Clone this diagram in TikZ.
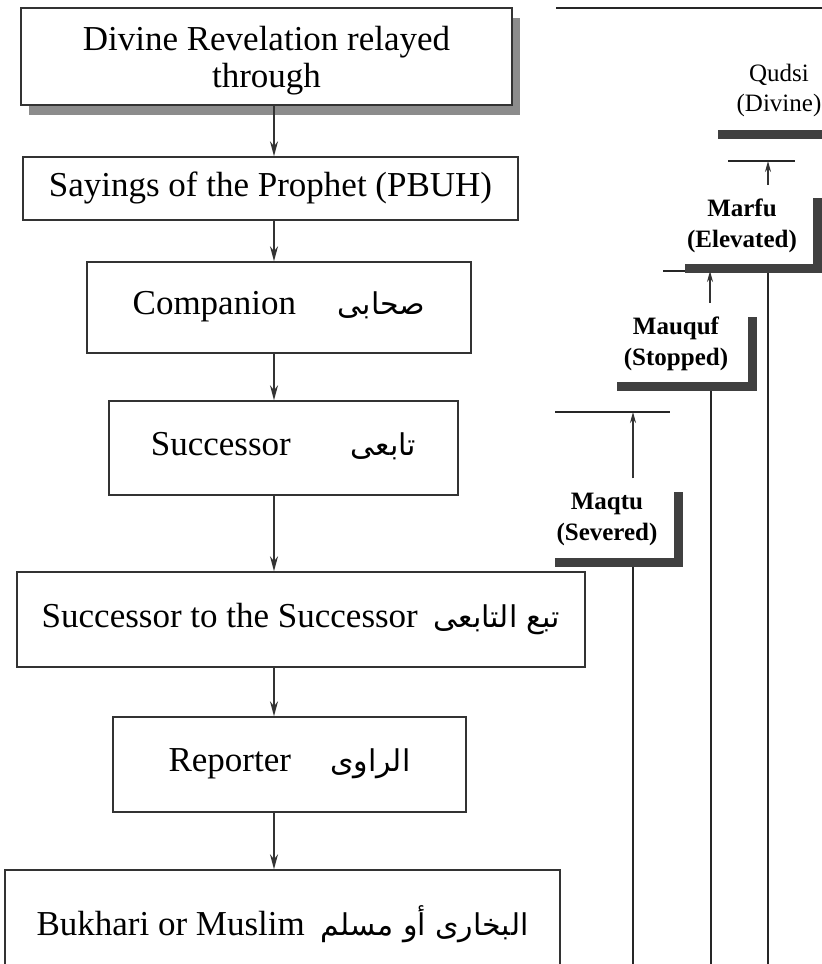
\documentclass[tikz,border=0pt]{standalone}
\usepackage{fontspec}
\setmainfont{Liberation Serif}
\newfontfamily\arabicfont[Script=Arabic]{DejaVu Sans}
\TeXXeTstate=1
\usepackage{tikz}
\usetikzlibrary{arrows.meta}
\usetikzlibrary{shadows}
\tikzset{>={Stealth[length=15pt,width=8pt]}}
\tikzset{
  chainbox/.style={draw=black!80, line width=1.5pt, fill=white, inner sep=0pt,
    font=\fontsize{35}{37}\selectfont, align=center, text depth=9pt},
  kindlabel/.style={font=\fontsize{25}{31}\selectfont\bfseries, align=center,
    inner xsep=2pt, inner ysep=14pt},
  thickbar/.style={draw=black!75, line width=9pt},
  thinbar/.style={draw=black!85, line width=1.5pt},
  link/.style={->, draw=black!80, line width=1.5pt}
}
\newcommand{\arabictext}[1]{{\arabicfont\fontsize{30}{37}\selectfont\beginR #1\endR}}

\begin{document}
\begin{tikzpicture}[x=1pt,y=-1pt]
  \clip (0,0) rectangle (822,964);
  % chain of reporters
  \node[chainbox, minimum width=491pt, minimum height=97pt, text depth=0pt,
    drop shadow={shadow xshift=8pt, shadow yshift=-10pt, fill=black!45, opacity=1}]
    (revelation) at (266.5,56.5) {Divine Revelation relayed\\through};
  \node[chainbox, minimum width=495pt, minimum height=63pt] (sayings) at (270.5,188.5)
    {Sayings of the Prophet (PBUH)};
  \node[chainbox, minimum width=384pt, minimum height=91pt] (companion) at (279,307.5)
    {Companion\hspace{42pt}\arabictext{صحابى}};
  \node[chainbox, minimum width=349pt, minimum height=94pt] (successor) at (283.5,448)
    {Successor\hspace{60pt}\arabictext{تابعى}};
  \node[chainbox, minimum width=568pt, minimum height=95pt] (successor2) at (301,619.5)
    {Successor to the Successor\hspace{16pt}\arabictext{تبع التابعى}};
  \node[chainbox, minimum width=353pt, minimum height=95pt] (reporter) at (289.5,764.5)
    {Reporter\hspace{39pt}\arabictext{الراوى}};
  \node[chainbox, minimum width=555pt, minimum height=110pt] (collector) at (282.5,925)
    {Bukhari or Muslim\hspace{16pt}\arabictext{البخارى أو مسلم}};

  \coordinate (spine) at (274,0);
  \coordinate (floor) at (0,970);
  \foreach \from/\to in {revelation/sayings, sayings/companion, companion/successor,
      successor/successor2, successor2/reporter, reporter/collector}
    \draw[link] (\from.south -| spine) -- (\to.north -| spine);

  % kinds of hadith
  \draw[thinbar] (556,8) -- (822,8);
  \node[kindlabel, font=\fontsize{25}{30}\selectfont] (qudsi) at (779,90) {Qudsi\\(Divine)};
  \draw[thickbar] (718,134.5) -- (822,134.5);

  \coordinate (marfuTop) at (768,161);
  \draw[thinbar] (728,161) -- (795,161);
  \node[kindlabel] (marfu) at (742,226) {Marfu\\(Elevated)};
  \draw[link, >={Stealth[length=11pt,width=6pt]}] (marfu.north -| marfuTop) -- (marfuTop);

  \coordinate (mauqufTop) at (710,271);
  \draw[thinbar] (663,271) -- (750,271);
  \draw[thickbar] (685,268.5) -| (817.5,198);
  \coordinate (marfuFoot) at (768,273);
  \draw[thinbar] (marfuFoot) -- (marfuFoot |- floor);
  \node[kindlabel] (mauquf) at (676,344) {Mauquf\\(Stopped)};
  \draw[link, >={Stealth[length=11pt,width=6pt]}] (mauquf.north -| mauqufTop) -- (mauqufTop);
  \draw[thickbar] (617,386.5) -| (752.5,317);
  \coordinate (mauqufFoot) at (711,391);
  \draw[thinbar] (mauqufFoot) -- (mauqufFoot |- floor);

  \coordinate (maqtuTop) at (633,412);
  \draw[thinbar] (555,412) -- (670,412);
  \node[kindlabel] (maqtu) at (607,519) {Maqtu\\(Severed)};
  \draw[link, >={Stealth[length=11pt,width=6pt]}] (maqtu.north -| maqtuTop) -- (maqtuTop);
  \draw[thickbar] (555,562.5) -| (678.5,492);
  \coordinate (maqtuFoot) at (633,567);
  \draw[thinbar] (maqtuFoot) -- (maqtuFoot |- floor);
\end{tikzpicture}
\end{document}
